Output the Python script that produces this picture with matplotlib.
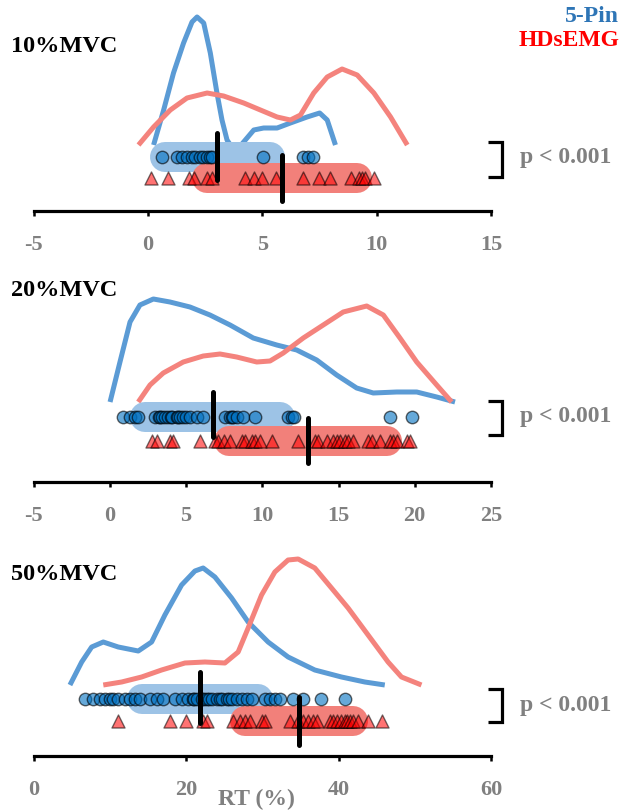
import matplotlib
matplotlib.use('Agg')
import matplotlib.pyplot as plt
from matplotlib.lines import Line2D

plt.rcParams['font.family'] = ['Liberation Serif', 'DejaVu Serif']
plt.rcParams['font.weight'] = 'bold'
plt.rcParams['axes.unicode_minus'] = False

# ---- data ----
levels = ['10%MVC', '20%MVC', '50%MVC']
p_labels = ['p < 0.001', 'p < 0.001', 'p < 0.001']
groups = ['5-Pin', 'HDsEMG']

x_limits = [(-5, 15), (-5, 25), (0, 60)]
x_ticks = [[-5, 0, 5, 10, 15], [-5, 0, 5, 10, 15, 20, 25], [0, 20, 40, 60]]

# individual RT values (%)
pin_10 = [0.62, 1.27, 1.49, 1.71, 1.93, 2.07, 2.29, 2.42, 2.59, 2.73, 2.80,
          5.04, 6.80, 7.02, 7.24]
hd_10 = [0.14, 0.86, 1.78, 2.00, 2.59, 2.80, 4.26, 4.62, 4.99, 5.58, 6.78,
         7.47, 7.95, 8.86, 9.22, 9.37, 9.51, 9.88]
pin_20 = [0.89, 1.33, 1.66, 1.88, 2.98, 3.20, 3.30, 3.42, 3.64, 3.84, 4.00,
          4.06, 4.39, 4.50, 4.61, 4.82, 5.00, 5.26, 5.70, 6.13, 7.56, 7.89,
          8.00, 8.10, 8.32, 8.76, 9.52, 11.71, 11.93, 12.08, 18.38, 19.80]
hd_20 = [2.75, 3.08, 3.95, 4.17, 5.92, 6.91, 7.13, 7.46, 7.89, 8.65, 8.87,
         9.31, 9.52, 9.85, 10.62, 12.36, 13.46, 13.67, 14.23, 14.66, 14.88,
         15.10, 15.43, 15.65, 15.98, 16.96, 17.18, 17.72, 18.38, 18.60, 18.82,
         19.47, 19.69]
pin_50 = [6.75, 7.84, 8.72, 9.37, 10.03, 10.46, 11.11, 11.99, 12.65, 13.30,
          13.96, 15.27, 16.15, 17.01, 18.55, 19.42, 20.29, 20.94, 21.00, 21.39,
          22.04, 22.30, 22.70, 23.00, 23.35, 24.01, 24.40, 24.67, 25.32, 25.60,
          25.98, 26.63, 27.29, 27.95, 28.60, 30.35, 31.00, 31.65, 32.31, 34.05,
          35.36, 37.77, 40.83]
hd_50 = [11.11, 17.89, 19.99, 22.25, 22.69, 26.18, 27.06, 27.72, 28.37, 29.91,
         30.35, 33.62, 34.71, 35.36, 36.02, 36.68, 37.12, 38.86, 39.30, 39.74,
         40.39, 40.83, 41.05, 41.48, 41.92, 42.58, 43.89, 45.64]

# mean and SD of each group
pin_mean = [3.03, 6.75, 21.82]
pin_sd = [2.30, 4.43, 7.64]
hd_mean = [5.86, 13.00, 34.82]
hd_sd = [3.28, 5.20, 7.10]

# density curves (x in RT %, height in arbitrary units)
pin_kde_x_10 = [0.25, 0.69, 1.12, 1.56, 1.93, 2.15, 2.44, 2.73, 3.02, 3.24, 3.46,
                3.82, 4.26, 4.63, 5.06, 5.65, 6.23, 6.96, 7.51, 7.84, 8.20]
pin_kde_y_10 = [66, 101, 138, 168, 189, 194, 188, 158, 118, 91, 71,
                59, 71, 81, 83, 83, 88, 94, 98, 91, 66]
hd_kde_x_10 = [-0.41, 0.25, 0.98, 1.71, 2.59, 3.31, 4.19, 4.92, 5.65, 6.23,
               6.67, 7.25, 7.84, 8.49, 9.15, 9.88, 10.61, 11.34]
hd_kde_y_10 = [66, 84, 101, 113, 118, 115, 108, 101, 94, 91,
               96, 118, 134, 142, 136, 118, 94, 66]

pin_kde_x_20 = [0.02, 0.67, 1.33, 1.98, 2.86, 3.95, 5.26, 6.57, 7.89, 9.41,
                10.95, 12.26, 13.57, 14.88, 16.19, 17.28, 18.82, 20.13, 21.44, 22.64]
pin_kde_y_20 = [80, 120, 160, 177, 183, 180, 175, 167, 157, 144,
                137, 132, 122, 107, 94, 89, 90, 90, 85, 80]
hd_kde_x_20 = [1.87, 2.64, 3.51, 4.82, 6.13, 7.23, 8.32, 9.64, 10.51, 11.38,
               12.69, 14.00, 15.31, 16.85, 17.94, 19.03, 20.13, 21.44, 22.42]
hd_kde_y_20 = [80, 97, 109, 120, 126, 128, 125, 120, 121, 129,
               144, 157, 170, 176, 167, 144, 120, 97, 80]

pin_kde_x_50 = [4.78, 6.32, 7.63, 9.15, 11.11, 13.74, 15.49, 17.23, 19.42, 21.17,
                22.25, 23.79, 25.98, 28.15, 30.77, 33.39, 36.89, 40.39, 43.45, 46.07]
pin_kde_y_50 = [71, 94, 109, 114, 109, 105, 114, 141, 171, 185,
                188, 179, 158, 134, 114, 99, 86, 79, 74, 71]
hd_kde_x_50 = [9.15, 11.56, 14.18, 16.80, 19.86, 22.48, 25.10, 26.84, 28.15, 29.91,
               31.65, 33.39, 34.71, 36.89, 39.08, 41.26, 43.88, 46.50, 48.26, 50.88]
hd_kde_y_50 = [71, 74, 79, 86, 93, 94, 93, 104, 128, 161,
               184, 196, 197, 188, 168, 148, 121, 94, 79, 71]

# colours
PIN_LINE = '#5B9BD5'
PIN_BAR = '#9DC3E6'
PIN_DOT = '#0070C0'
HD_LINE = '#F4837D'
HD_BAR = '#F2807A'
HD_DOT = '#FF0000'
GREY = '#808080'

W, H = 622, 810


def fx(px):
    return px / W


def fy(py):
    return 1 - py / H


def draw_panel(fig, base, rows, pin, hd, kde, i):
    """
    One raincloud panel. base = pixel row of the x axis line,
    rows = heights above the axis for the dots / bars / mean lines.
    """
    ax = fig.add_axes([fx(33.5), fy(base), 457.5 / W, 210 / H])
    ax.set_xlim(*x_limits[i])
    ax.set_ylim(0, 210)

    pin_row, hd_row, pin_med, hd_med = rows

    # density curves
    ax.plot(kde[0], kde[1], color=PIN_LINE, lw=3.6, zorder=1,
            solid_capstyle='butt', solid_joinstyle='round', clip_on=False)
    ax.plot(kde[2], kde[3], color=HD_LINE, lw=3.6, zorder=1,
            solid_capstyle='butt', solid_joinstyle='round', clip_on=False)

    # mean +- SD bars
    ax.plot([pin_mean[i] - pin_sd[i], pin_mean[i] + pin_sd[i]], [pin_row, pin_row],
            color=PIN_BAR, lw=21.6, solid_capstyle='round', zorder=2)
    ax.plot([hd_mean[i] - hd_sd[i], hd_mean[i] + hd_sd[i]], [hd_row, hd_row],
            color=HD_BAR, lw=21.6, solid_capstyle='round', zorder=2.1)

    # raw values
    ax.scatter(pin, [pin_row] * len(pin), s=80, marker='o', facecolor=PIN_DOT,
               alpha=0.6, edgecolor='black', linewidth=1.0, zorder=3)
    ax.scatter(hd, [hd_row] * len(hd), s=88, marker='^', facecolor=HD_DOT,
               alpha=0.55, edgecolor='black', linewidth=1.0, zorder=3.5)
    for sc in ax.collections:
        sc.set_edgecolor((0, 0, 0, 1))

    # mean lines
    ax.plot([pin_mean[i], pin_mean[i]], pin_med, color='black', lw=3.6,
            solid_capstyle='round', zorder=4)
    ax.plot([hd_mean[i], hd_mean[i]], hd_med, color='black', lw=3.6,
            solid_capstyle='round', zorder=4)

    for side in ['left', 'top', 'right']:
        ax.spines[side].set_visible(False)
    ax.spines['bottom'].set_linewidth(2.3)
    ax.set_yticks([])
    ax.set_xticks(x_ticks[i])
    ax.tick_params(axis='x', direction='out', length=3.5, width=1.8,
                   pad=14, labelsize=16, labelcolor=GREY)
    for lab in ax.get_xticklabels():
        lab.set_fontweight('bold')
    ax.patch.set_alpha(0)
    return ax


def bracket(fig, top, bottom, text_y, label):
    xs = [fx(488), fx(502), fx(502), fx(488)]
    ys = [fy(top), fy(top), fy(bottom), fy(bottom)]
    fig.add_artist(Line2D(xs, ys, color='black', lw=2.3,
                          solid_joinstyle='miter', solid_capstyle='butt'))
    fig.text(fx(520), fy(text_y), label, color=GREY, fontsize=17,
             fontweight='bold', va='center', ha='left')


def main():
    fig = plt.figure(figsize=(6.22, 8.10), dpi=100)

    draw_panel(fig, 211, (54, 33, (31, 78), (10, 56)), pin_10, hd_10,
               (pin_kde_x_10, pin_kde_y_10, hd_kde_x_10, hd_kde_y_10), 0)
    draw_panel(fig, 482, (65, 41, (45, 90), (19, 64)), pin_20, hd_20,
               (pin_kde_x_20, pin_kde_y_20, hd_kde_x_20, hd_kde_y_20), 1)
    draw_panel(fig, 756, (57, 35, (33, 84), (11, 59)), pin_50, hd_50,
               (pin_kde_x_50, pin_kde_y_50, hd_kde_x_50, hd_kde_y_50), 2)

    # panel titles
    for lvl, y in zip(levels, [47, 290, 574]):
        fig.text(fx(11), fy(y), lvl, fontsize=17.5, fontweight='bold',
                 color='black', va='center', ha='left')

    # significance brackets
    bracket(fig, 142, 177, 158, p_labels[0])
    bracket(fig, 401, 435, 416, p_labels[1])
    bracket(fig, 689, 722, 706, p_labels[2])

    # legend text
    fig.text(fx(619), fy(17), groups[0], color='#2E75B6', fontsize=17,
             fontweight='bold', va='center', ha='right')
    fig.text(fx(619), fy(40), groups[1], color='#FF0000', fontsize=17,
             fontweight='bold', va='center', ha='right')

    # x label
    fig.text(fx(256), fy(799), 'RT (%)', color=GREY, fontsize=17,
             fontweight='bold', va='center', ha='center')

    fig.savefig('out.png', dpi=100)


if __name__ == '__main__':
    main()
